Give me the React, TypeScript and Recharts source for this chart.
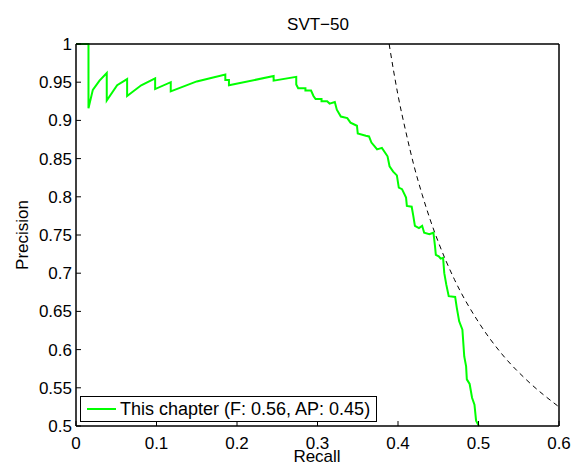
import React from 'react';
import { LineChart, Line, XAxis, YAxis } from 'recharts';

// PR curve
const recall = [
  0, 0.0155, 0.0155, 0.0209, 0.0292, 0.0382, 0.0382, 0.0511, 0.0635, 0.0635,
  0.081, 0.0983, 0.0983, 0.1177, 0.1177, 0.15, 0.1855, 0.1855, 0.19, 0.19,
  0.2455, 0.2455, 0.2736, 0.2736, 0.276, 0.285, 0.285, 0.292, 0.295, 0.2976,
  0.305, 0.305, 0.312, 0.315, 0.3215, 0.324, 0.329, 0.337, 0.341, 0.349,
  0.35, 0.36, 0.364, 0.367, 0.371, 0.374, 0.38, 0.387, 0.3895, 0.394,
  0.3986, 0.401, 0.405, 0.41, 0.411, 0.417, 0.419, 0.421, 0.426, 0.43,
  0.4325, 0.439, 0.444, 0.446, 0.447, 0.4506, 0.453, 0.456, 0.4575, 0.46,
  0.463, 0.471, 0.473, 0.476, 0.48, 0.4823, 0.4846, 0.4855, 0.489, 0.492,
  0.495, 0.497, 0.5005,
];
const precision = [
  1, 1, 0.916, 0.94, 0.952, 0.962, 0.926, 0.946, 0.954, 0.932,
  0.946, 0.955, 0.941, 0.95, 0.938, 0.951, 0.96, 0.953, 0.953, 0.946,
  0.958, 0.952, 0.957, 0.947, 0.942, 0.942, 0.939, 0.939, 0.932, 0.928,
  0.928, 0.925, 0.925, 0.922, 0.924, 0.914, 0.905, 0.903, 0.897, 0.893,
  0.883, 0.88, 0.879, 0.871, 0.866, 0.862, 0.864, 0.853, 0.84, 0.833,
  0.828, 0.812, 0.81, 0.799, 0.788, 0.787, 0.775, 0.762, 0.759, 0.762,
  0.753, 0.751, 0.753, 0.735, 0.724, 0.722, 0.719, 0.72, 0.7, 0.685,
  0.67, 0.669, 0.655, 0.637, 0.626, 0.591, 0.578, 0.561, 0.555, 0.537,
  0.528, 0.507, 0.5,
];

// dashed iso-F line
const isoRecall = [0.389, 0.395, 0.4, 0.41, 0.42, 0.43, 0.44, 0.45, 0.47, 0.5, 0.53, 0.56, 0.6];
const isoPrecision = [1, 0.962, 0.933, 0.884, 0.84, 0.803, 0.77, 0.741, 0.692, 0.636, 0.593, 0.56, 0.525];

const xTicks = [0, 0.1, 0.2, 0.3, 0.4, 0.5, 0.6];
const yTicks = [0.5, 0.55, 0.6, 0.65, 0.7, 0.75, 0.8, 0.85, 0.9, 0.95, 1];

const prData = recall.map((r, i) => ({ r, p: precision[i] }));
const isoData = isoRecall.map((r, i) => ({ r, p: isoPrecision[i] }));

const font = '"Liberation Sans", Arial, Helvetica, sans-serif';
const TICK = 5;

// matlab style: ticks point into the box
const BottomTick = ({ x, y, payload }: any) => (
  <g>
    <line x1={x} x2={x} y1={y - 11} y2={y - 11 - TICK} stroke="#000" />
    <text x={x} y={y} dy="0.71em" textAnchor="middle" fontSize={17} fontFamily={font} fill="#000">
      {String(payload.value)}
    </text>
  </g>
);
const LeftTick = ({ x, y, payload }: any) => (
  <g>
    <line x1={x + 4} x2={x + 4 + TICK} y1={y} y2={y} stroke="#000" />
    <text x={x} y={y} dy="0.355em" textAnchor="end" fontSize={17} fontFamily={font} fill="#000">
      {String(payload.value)}
    </text>
  </g>
);
const TopTick = ({ x, y }: any) => <line x1={x} x2={x} y1={y} y2={y + TICK} stroke="#000" />;
const RightTick = ({ x, y }: any) => <line x1={x} x2={x - TICK} y1={y} y2={y} stroke="#000" />;

export default function App() {
  return (
    <div style={{ position: 'absolute', left: 0, top: 0, width: 573, height: 465, background: '#fff', fontFamily: font }}>
      <LineChart width={573} height={465} margin={{ top: 43, right: 13, bottom: 0, left: 0 }}>
        <XAxis
          xAxisId="b"
          dataKey="r"
          type="number"
          domain={[0, 0.6]}
          ticks={xTicks}
          height={39}
          tickSize={0}
          tickMargin={11}
          tickLine={false}
          stroke="#000"
          strokeWidth={1.5}
          tick={BottomTick}
        />
        <XAxis
          xAxisId="t"
          dataKey="r"
          type="number"
          orientation="top"
          domain={[0, 0.6]}
          ticks={xTicks}
          height={1}
          tickSize={0}
          tickMargin={0}
          tickLine={false}
          stroke="#000"
          strokeWidth={1.5}
          tick={TopTick}
        />
        <YAxis
          yAxisId="l"
          type="number"
          domain={[0.5, 1]}
          ticks={yTicks}
          width={76}
          tickSize={0}
          tickMargin={4}
          tickLine={false}
          stroke="#000"
          strokeWidth={1.5}
          tick={LeftTick}
        />
        <YAxis
          yAxisId="r"
          type="number"
          orientation="right"
          domain={[0.5, 1]}
          ticks={yTicks}
          width={1}
          tickSize={0}
          tickMargin={0}
          tickLine={false}
          stroke="#000"
          strokeWidth={1.5}
          tick={RightTick}
        />
        <Line
          xAxisId="b"
          yAxisId="l"
          data={isoData}
          dataKey="p"
          type="monotone"
          stroke="#000"
          strokeWidth={1}
          strokeDasharray="5 4"
          dot={false}
          isAnimationActive={false}
        />
        <Line
          xAxisId="b"
          yAxisId="l"
          data={prData}
          dataKey="p"
          type="linear"
          stroke="#00ff00"
          strokeWidth={2}
          dot={false}
          isAnimationActive={false}
        />
        <text x={318} y={30} textAnchor="middle" fontSize={17} fontFamily={font} fill="#000">SVT−50</text>
        <text x={317} y={462} textAnchor="middle" fontSize={17} fontFamily={font} fill="#000">Recall</text>
        <text x={28} y={235} textAnchor="middle" fontSize={17} fontFamily={font} fill="#000" transform="rotate(-90 28 235)">Precision</text>
      </LineChart>
      <div
        style={{
          position: 'absolute',
          left: 80,
          top: 396,
          width: 295,
          height: 24,
          border: '1px solid #000',
          background: '#fff',
          display: 'flex',
          alignItems: 'center',
          fontSize: 18,
          whiteSpace: 'nowrap',
        }}
      >
        <span style={{ display: 'inline-block', width: 29, height: 2, background: '#00ff00', marginLeft: 6, marginRight: 4 }} />
        <span>This chapter (F: 0.56, AP: 0.45)</span>
      </div>
    </div>
  );
}
